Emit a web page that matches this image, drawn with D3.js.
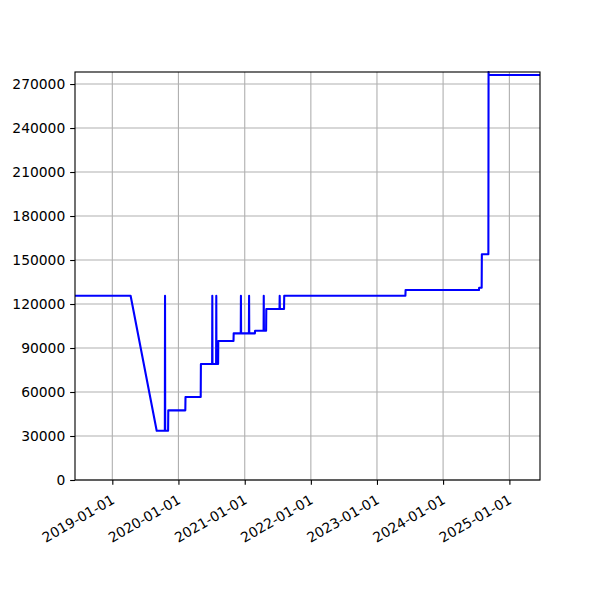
<!DOCTYPE html>
<html>
<head>
<meta charset="utf-8">
<script src="https://cdn.jsdelivr.net/npm/d3@7"></script>
<style>
  html, body { margin: 0; padding: 0; background: #fff; }
  svg { display: block; }
  text { font-family: "DejaVu Sans", sans-serif; }
</style>
</head>
<body>
<script>
// ---- data (breakpoints of the series) ----
const dates = [
  "2018-06-09", "2019-04-12", "2019-09-03", "2019-10-18", "2019-10-19", "2019-10-20",
  "2019-11-05", "2019-11-06", "2020-02-08", "2020-02-09", "2020-05-03", "2020-05-04",
  "2020-07-05", "2020-07-06", "2020-07-07", "2020-07-27", "2020-07-28", "2020-07-29",
  "2020-08-07", "2020-08-08", "2020-10-31", "2020-11-01", "2020-12-10", "2020-12-11",
  "2020-12-12", "2021-01-24", "2021-01-25", "2021-01-26", "2021-02-26", "2021-02-27",
  "2021-04-15", "2021-04-16", "2021-04-17", "2021-04-29", "2021-04-30", "2021-07-12",
  "2021-07-13", "2021-07-14", "2021-08-06", "2021-08-07", "2023-06-07", "2023-06-08",
  "2024-07-17", "2024-07-18", "2024-08-01", "2024-08-02", "2024-09-07", "2024-09-08",
  "2024-09-09", "2025-06-19"
];
const values = [
  125600, 125600, 33600, 33600, 125600, 33600,
  33600, 47500, 47500, 56600, 56600, 79100,
  79100, 125600, 79100, 79100, 125600, 79100,
  79100, 94800, 94800, 100000, 100000, 125600,
  100000, 100000, 125600, 100000, 100000, 101800,
  101800, 125600, 101800, 101800, 116600, 116600,
  125600, 116600, 116600, 125600, 125600, 129500,
  129500, 131100, 131100, 153900, 153900, 278200,
  276100, 276100
];
const yTicks = [0, 30000, 60000, 90000, 120000, 150000, 180000, 210000, 240000, 270000];
const xTickLabels = ["2019-01-01", "2020-01-01", "2021-01-01", "2022-01-01", "2023-01-01", "2024-01-01", "2025-01-01"];

// ---- layout ----
const W = 600, H = 600;
const mLeft = 75, mRight = 540, mTop = 72, mBottom = 480;
const pt = 100 / 72;

const parse = d3.utcParse("%Y-%m-%d");
const series = dates.map((d, i) => ({ date: parse(d), value: values[i] }));

const x = d3.scaleUtc()
  .domain(d3.extent(series, d => d.date))
  .range([mLeft, mRight]);
const y = d3.scaleLinear()
  .domain([0, d3.max(values)])
  .range([mBottom, mTop]);

const svg = d3.select("body").append("svg")
  .attr("width", W).attr("height", H);

const xTickDates = xTickLabels.map(parse);

// grid
const grid = svg.append("g");
grid.selectAll(".gx").data(xTickDates).enter().append("line")
  .attr("x1", d => x(d)).attr("x2", d => x(d))
  .attr("y1", mTop).attr("y2", mBottom)
  .attr("stroke", "#b0b0b0").attr("stroke-width", 0.8 * pt);
grid.selectAll(".gy").data(yTicks).enter().append("line")
  .attr("x1", mLeft).attr("x2", mRight)
  .attr("y1", d => y(d)).attr("y2", d => y(d))
  .attr("stroke", "#b0b0b0").attr("stroke-width", 0.8 * pt);

// line
const clipId = "plotclip";
svg.append("clipPath").attr("id", clipId).append("rect")
  .attr("x", mLeft).attr("y", mTop - 1).attr("width", mRight - mLeft).attr("height", mBottom - mTop + 1);

svg.append("path")
  .datum(series)
  .attr("clip-path", `url(#${clipId})`)
  .attr("fill", "none")
  .attr("stroke", "#0000ff")
  .attr("stroke-width", 1.5 * pt)
  .attr("stroke-linejoin", "round")
  .attr("stroke-linecap", "square")
  .attr("d", d3.line().x(d => x(d.date)).y(d => y(d.value)));

// axes
const tickLen = 3.5 * pt, pad = 3.5 * pt, fs = 10 * pt;

const xAxis = d3.axisBottom(x)
  .tickValues(xTickDates)
  .tickSize(tickLen)
  .tickPadding(pad)
  .tickFormat(d3.utcFormat("%Y-%m-%d"));
const gx = svg.append("g").attr("transform", `translate(0,${mBottom})`).call(xAxis);
gx.select(".domain").remove();
gx.selectAll(".tick line").attr("stroke", "#000").attr("stroke-width", 0.8 * pt);
gx.selectAll(".tick text")
  .attr("fill", "#000")
  .style("font-size", fs + "px")
  .style("font-family", "'DejaVu Sans', sans-serif")
  .attr("text-anchor", "end")
  .attr("x", -4).attr("y", 2).attr("dy", "0.76em")
  .attr("transform", `translate(0,${tickLen + pad}) rotate(-30)`);

const yAxis = d3.axisLeft(y)
  .tickValues(yTicks)
  .tickSize(tickLen)
  .tickPadding(pad)
  .tickFormat(d3.format("d"));
const gy = svg.append("g").attr("transform", `translate(${mLeft},0)`).call(yAxis);
gy.select(".domain").remove();
gy.selectAll(".tick line").attr("stroke", "#000").attr("stroke-width", 0.8 * pt);
gy.selectAll(".tick text")
  .attr("fill", "#000")
  .style("font-size", fs + "px")
  .style("font-family", "'DejaVu Sans', sans-serif")
  .attr("dy", "0.35em");

// spines
svg.append("rect")
  .attr("x", mLeft).attr("y", mTop)
  .attr("width", mRight - mLeft).attr("height", mBottom - mTop)
  .attr("fill", "none").attr("stroke", "#000").attr("stroke-width", 0.8 * pt);
</script>
</body>
</html>
